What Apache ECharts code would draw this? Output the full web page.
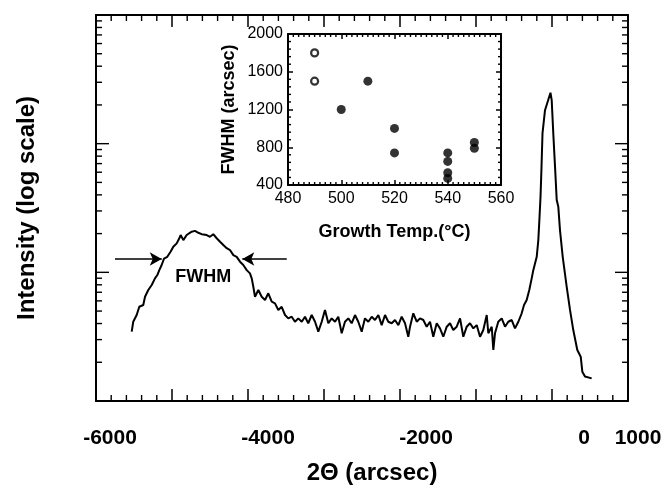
<!DOCTYPE html>
<html>
<head>
<meta charset="utf-8">
<script src="https://cdn.jsdelivr.net/npm/echarts@6/dist/echarts.min.js"></script>
<style>
  html, body { margin: 0; padding: 0; background: #fff; }
  #chart { width: 669px; height: 493px; }
</style>
</head>
<body>
<div id="chart"></div>
<script>
// main scan, 2theta in arcsec, intensity in arb. units (log axis)
var twoTheta = [
  -5530, -5510, -5465, -5430, -5378, -5355, -5312, -5267, -5224, -5193,
  -5167, -5136, -5105, -5062, -5017, -4983, -4938, -4904, -4886, -4851,
  -4807, -4741, -4697, -4654, -4609, -4543, -4500, -4457, -4412, -4368,
  -4325, -4280, -4237, -4193, -4149, -4105, -4062, -4017, -3974, -3951,
  -3930, -3908, -3864, -3820, -3776, -3733, -3688, -3645, -3601, -3557,
  -3513, -3470, -3425, -3382, -3338, -3293, -3250, -3207, -3162, -3118,
  -3075, -3030, -2987, -2943, -2899, -2855, -2812, -2767, -2724, -2680,
  -2636, -2592, -2549, -2504, -2461, -2417, -2372, -2329, -2285, -2241,
  -2197, -2154, -2109, -2066, -2022, -1978, -1934, -1891, -1868, -1825,
  -1780, -1737, -1693, -1649, -1605, -1562, -1517, -1474, -1430, -1385,
  -1342, -1299, -1254, -1210, -1167, -1122, -1079, -1035, -991, -947,
  -904, -859, -838, -793, -772, -750, -707, -662, -618, -575,
  -530, -487, -443, -399, -368, -333, -299, -267, -246, -224,
  -201, -180, -164, -151, -138, -125, -92, -20, -4, 17,
  40, 62, 83, 105, 141, 193, 237, 280, 333, 378,
  399, 434, 522
];
var intensity = [
  3.46, 4.13, 4.66, 5.40, 5.57, 6.46, 7.29, 7.97, 8.98, 9.53,
  10.4, 11.4, 12.8, 13.2, 14.5, 15.8, 16.8, 18.4, 19.5, 17.8,
  19.5, 20.7, 21.0, 20.3, 19.8, 19.5, 18.9, 19.8, 18.4, 17.3,
  16.3, 15.4, 14.9, 13.6, 13.2, 12.1, 11.4, 10.4, 9.82, 8.98,
  7.73, 6.46, 7.29, 6.46, 6.09, 6.87, 5.91, 5.74, 5.10, 5.40,
  4.66, 4.39, 4.52, 4.13, 4.39, 4.13, 4.52, 4.02, 4.66, 4.13,
  3.46, 4.13, 5.10, 4.02, 4.39, 4.13, 4.52, 3.36, 4.13, 4.39,
  4.02, 4.66, 4.13, 3.46, 4.39, 4.13, 4.52, 4.26, 4.66, 3.89,
  4.66, 4.13, 4.02, 4.26, 3.89, 4.52, 4.02, 3.16, 3.78, 4.80,
  4.13, 4.39, 4.26, 3.78, 4.13, 3.16, 4.02, 3.67, 3.16, 3.78,
  4.02, 3.56, 3.78, 4.39, 3.16, 3.78, 4.02, 3.67, 3.89, 3.16,
  3.56, 4.66, 3.36, 3.78, 2.49, 3.36, 4.13, 4.39, 3.78, 4.13,
  4.26, 3.67, 4.13, 4.80, 5.57, 6.09, 7.29, 8.98, 10.4, 10.7,
  13.2, 17.8, 27.0, 38.7, 66, 120, 182, 249, 218, 120,
  66, 36.5, 32.3, 21.3, 13.2, 7.73, 5.10, 3.56, 2.49, 2.21,
  1.69, 1.55, 1.50
];
var xLabelVals = [-6000, -4000, -2000, 0, 1000];
var xLabelShift = [28, 40, 52, 64, 20];

// FWHM arrows (2theta ends) at one intensity level
var arrowLevel = 12.7;
var arrowLeft = [-5750, -5135];
var arrowRight = [-3490, -4075];

// inset: FWHM vs growth temperature
var openTemp = [490, 490];
var openFwhm = [1800, 1500];
var filledTemp = [500, 510, 520, 520, 540, 540, 540, 540, 550, 550];
var filledFwhm = [1200, 1500, 1000, 740, 740, 650, 530, 470, 850, 790];

var FONT = "'Liberation Sans', Arial, Helvetica, sans-serif";

// frame tick values (decoration only)
function steps(from, to, step, skipEvery) {
  var out = [];
  for (var v = from; v <= to + 1e-9; v += step) {
    if (skipEvery && Math.abs(v % skipEvery) < 1e-9) continue;
    out.push(v);
  }
  return out;
}
var mainXMinor = steps(-6000, 1000, 200, 1000);
var logMajor = [10, 100];
var logMinor = [];
[1, 10, 100].forEach(function (d) {
  for (var k = 2; k <= 9; k++) logMinor.push(k * d);
});
var insetXMinor = steps(480, 560, 2, 20);
var insetYMinor = steps(400, 2000, 80, 400);

function pairs(a, b) {
  return a.map(function (v, i) { return [v, b[i]]; });
}

// inward ticks on both opposite frame sides, placed through the axes
function tickSeries(xi, yi, vals, dir, len, lo, hi) {
  return {
    type: 'custom', xAxisIndex: xi, yAxisIndex: yi, silent: true, clip: false, z: 5,
    data: vals.map(function (v) { return dir === 'x' ? [v, lo] : [lo, v]; }),
    renderItem: function (params, api) {
      var v = api.value(dir === 'x' ? 0 : 1);
      var a, b, segs;
      var st = { stroke: '#000', lineWidth: 1.4 };
      if (dir === 'x') {
        a = api.coord([v, lo]); b = api.coord([v, hi]);
        segs = [[a[0], a[1], a[0], a[1] - len], [b[0], b[1], b[0], b[1] + len]];
      } else {
        a = api.coord([lo, v]); b = api.coord([hi, v]);
        segs = [[a[0], a[1], a[0] + len, a[1]], [b[0], b[1], b[0] - len, b[1]]];
      }
      return {
        type: 'group',
        children: segs.map(function (s) {
          return { type: 'line', shape: { x1: s[0], y1: s[1], x2: s[2], y2: s[3] }, style: st };
        })
      };
    }
  };
}

function side(extra, len) {
  var base = {
    axisLine: { show: true, onZero: false, lineStyle: { color: '#000', width: 2 } },
    axisTick: { show: len > 0, inside: true, length: len, lineStyle: { color: '#000', width: 1.5 } },
    splitLine: { show: false },
    axisLabel: { show: false }
  };
  return Object.assign(base, extra);
}

var xRich = {};
xLabelVals.forEach(function (v, i) {
  xRich['s' + i] = { fontFamily: FONT, fontSize: 21, fontWeight: 'bold', color: '#000', padding: [0, 0, 0, xLabelShift[i]] };
});

var mainX = { type: 'value', gridIndex: 0, min: -6000, max: 1000, interval: 1000 };
var logY = { type: 'log', logBase: 10, gridIndex: 0, min: 1, max: 1000 };
var insetX = { type: 'value', gridIndex: 1, min: 480, max: 560, interval: 20 };
var insetY = { type: 'value', gridIndex: 1, min: 400, max: 2000, interval: 400 };

function plainNum(v) { return String(v); }

var chart = echarts.init(document.getElementById('chart'));
chart.setOption({
  backgroundColor: '#fff',
  animation: false,
  grid: [
    { left: 96, top: 15, right: 41, bottom: 92 },
    { left: 288, top: 34, width: 213, height: 151, show: true, backgroundColor: '#fff', borderWidth: 0 }
  ],
  xAxis: [
    side(Object.assign({}, mainX, {
      position: 'bottom',
      axisLabel: {
        show: true, interval: 0, margin: 27,
        formatter: function (v) {
          var i = xLabelVals.indexOf(v);
          return i < 0 ? '' : '{s' + i + '|' + v + '}';
        },
        rich: xRich
      },
      name: '2Θ (arcsec)', nameLocation: 'middle', nameGap: 60,
      nameTextStyle: { fontFamily: FONT, fontSize: 24, fontWeight: 'bold', color: '#000', padding: [0, 0, 0, 20] }
    }), 12),
    side(Object.assign({}, mainX, { position: 'top' }), 12),
    side(Object.assign({}, insetX, {
      position: 'bottom',
      axisLabel: { show: true, margin: 6, fontFamily: FONT, fontSize: 16, color: '#000', formatter: plainNum },
      name: 'Growth Temp.(°C)', nameLocation: 'middle', nameGap: 38,
      nameTextStyle: { fontFamily: FONT, fontSize: 18, fontWeight: 'bold', color: '#000' }
    }), 5),
    side(Object.assign({}, insetX, { position: 'top' }), 5)
  ],
  yAxis: [
    side(Object.assign({}, logY, {
      position: 'left',
      name: 'Intensity (log scale)', nameLocation: 'middle', nameGap: 57,
      nameTextStyle: { fontFamily: FONT, fontSize: 24, fontWeight: 'bold', color: '#000' }
    }), 0),
    side(Object.assign({}, logY, { position: 'right' }), 0),
    side(Object.assign({}, insetY, {
      position: 'left',
      axisLabel: { show: true, margin: 5, fontFamily: FONT, fontSize: 16, color: '#000', formatter: plainNum },
      name: 'FWHM (arcsec)', nameLocation: 'middle', nameGap: 50,
      nameTextStyle: { fontFamily: FONT, fontSize: 18, fontWeight: 'bold', color: '#000' }
    }), 5),
    side(Object.assign({}, insetY, { position: 'right' }), 5)
  ],
  series: [
    {
      type: 'line', xAxisIndex: 0, yAxisIndex: 0,
      data: pairs(twoTheta, intensity),
      showSymbol: false, symbol: 'none',
      lineStyle: { color: '#000', width: 2 },
      markLine: {
        silent: true, symbol: ['none', 'arrow'], symbolSize: [10, 12],
        lineStyle: { color: '#000', width: 1.5, type: 'solid' },
        label: { show: false },
        data: [
          [{ coord: [arrowLeft[0], arrowLevel] }, { coord: [arrowLeft[1], arrowLevel] }],
          [{ coord: [arrowRight[0], arrowLevel] }, { coord: [arrowRight[1], arrowLevel] }]
        ]
      },
      markPoint: {
        silent: true, symbol: 'circle', symbolSize: 1,
        itemStyle: { color: 'transparent' },
        label: { show: true, position: 'inside', formatter: 'FWHM', fontFamily: FONT, fontSize: 18, fontWeight: 'bold', color: '#000' },
        data: [{ coord: [-4590, 9.2] }]
      }
    },
    tickSeries(0, 0, mainXMinor, 'x', 6, 1, 1000),
    tickSeries(0, 0, logMajor, 'y', 13, -6000, 1000),
    tickSeries(0, 0, logMinor, 'y', 6, -6000, 1000),
    tickSeries(2, 2, insetXMinor, 'x', 3, 400, 2000),
    tickSeries(2, 2, insetYMinor, 'y', 3, 480, 560),
    {
      type: 'scatter', xAxisIndex: 2, yAxisIndex: 2,
      data: pairs(openTemp, openFwhm),
      symbol: 'circle', symbolSize: 7,
      itemStyle: { color: '#fff', borderColor: '#000', borderWidth: 2.2 }
    },
    {
      type: 'scatter', xAxisIndex: 2, yAxisIndex: 2,
      data: pairs(filledTemp, filledFwhm),
      symbol: 'circle', symbolSize: 9,
      itemStyle: { color: '#000' }
    }
  ]
});
</script>
</body>
</html>
